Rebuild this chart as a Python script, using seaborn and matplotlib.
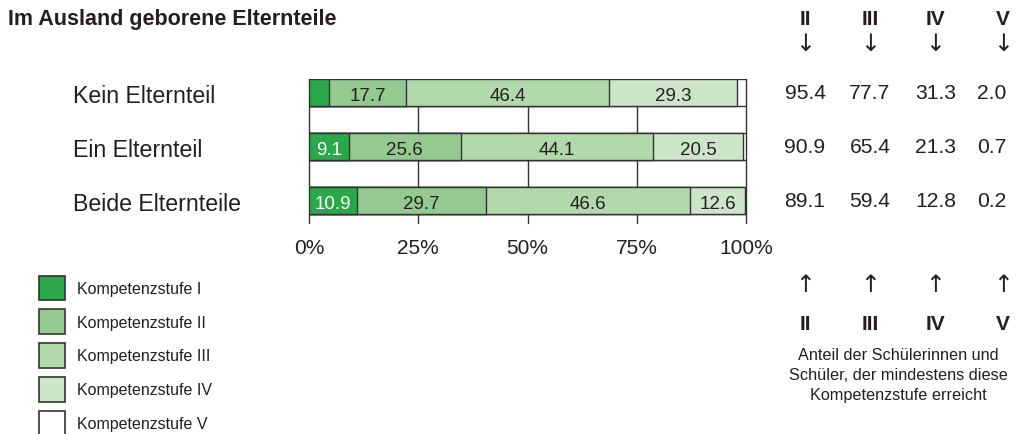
import numpy as np
import pandas as pd
import seaborn as sns
import matplotlib.pyplot as plt
from matplotlib import transforms
from matplotlib.patches import Patch

# data
categories = ["Kein Elternteil", "Ein Elternteil", "Beide Elternteile"]
levels = ["Kompetenzstufe I", "Kompetenzstufe II", "Kompetenzstufe III",
          "Kompetenzstufe IV", "Kompetenzstufe V"]
stufe_1 = [4.6, 9.1, 10.9]
stufe_2 = [17.7, 25.6, 29.7]
stufe_3 = [46.4, 44.1, 46.6]
stufe_4 = [29.3, 20.5, 12.6]
stufe_5 = [2.0, 0.7, 0.2]

# share reaching at least level II..V
min_2 = [95.4, 90.9, 89.1]
min_3 = [77.7, 65.4, 59.4]
min_4 = [31.3, 21.3, 12.8]
min_5 = [2.0, 0.7, 0.2]
roman = ["II", "III", "IV", "V"]

xticks = [0, 25, 50, 75, 100]
xticklabels = ["0%", "25%", "50%", "75%", "100%"]

colors = ["#2aa84a", "#94c98f", "#b2d9ab", "#cde6c9", "#ffffff"]
edge = "#333333"
txt = "#231f20"

sns.set_theme(style="white")
plt.rcParams['font.family'] = ['Liberation Sans', 'DejaVu Sans']

df = pd.DataFrame({"kategorie": categories})
for lvl, vals in zip(levels, [stufe_1, stufe_2, stufe_3, stufe_4, stufe_5]):
    df[lvl] = vals
cum = df[levels].cumsum(axis=1)
cum["kategorie"] = categories

fig = plt.figure(figsize=(10.18, 4.35), dpi=100)
ax = fig.add_axes([309 / 1018, 0.486, 437 / 1018, 0.329])

# stacked bars: draw cumulative totals from the largest down
for lvl, col in reversed(list(zip(levels, colors))):
    sns.barplot(data=cum, x=lvl, y="kategorie", color=col, width=0.5,
                saturation=1, edgecolor=edge, linewidth=1, ax=ax)

ax.set_xlim(0, 100)
ax.set_ylim(2.4, -0.25)
ax.set_xticks(xticks)
ax.set_xticklabels(xticklabels, fontsize=15, color=txt)
ax.tick_params(axis='x', length=0, pad=11)
ax.tick_params(axis='y', left=False, labelleft=False)
ax.set_xlabel("")
ax.set_ylabel("")
ax.grid(axis='x', color=edge, linewidth=1)
ax.set_axisbelow(True)
for gl in ax.get_xgridlines():
    gl.set_clip_on(False)
sns.despine(ax=ax, left=True, bottom=True)

# value labels inside segments
for i in range(len(categories)):
    left = 0
    for j, lvl in enumerate(levels):
        v = df[lvl][i]
        if v >= 5:
            ax.text(left + v / 2, i + 0.05, f"{v:.1f}", ha='center', va='center',
                    fontsize=13.5, color="white" if j == 0 else txt)
        left += v

# category labels and right-hand table
blend = transforms.blended_transform_factory(fig.transFigure, ax.transData)
col_x = [805, 870, 936, 992]
for i, cat in enumerate(categories):
    ax.text(73 / 1018, i + 0.04, cat, transform=blend, ha='left', va='center',
            fontsize=16.7, color=txt)
    for cx, vals in zip(col_x, [min_2, min_3, min_4, min_5]):
        ax.text(cx / 1018, i, f"{vals[i]:.1f}", transform=blend, ha='center',
                va='center', fontsize=15.2, color=txt)

fig.text(8 / 1018, 1 - 25 / 435, "Im Ausland geborene Elternteile",
         fontsize=15.5, fontweight='bold', color=txt, va='baseline')

head_x = [805, 870, 935, 1003]
for hx, r in zip(head_x, roman):
    fig.text(hx / 1018, 1 - 25 / 435, r, ha='center', va='baseline',
             fontsize=15, fontweight='bold', color=txt)
    fig.text(hx / 1018, 1 - 44 / 435, "↓", ha='center', va='center',
             fontsize=17, color=txt, family='DejaVu Sans')
    fig.text(hx / 1018, 1 - 285 / 435, "↑", ha='center', va='center',
             fontsize=17, color=txt, family='DejaVu Sans')
    fig.text(hx / 1018, 1 - 330 / 435, r, ha='center', va='baseline',
             fontsize=15, fontweight='bold', color=txt)

# multi-line note, baseline refers to the last line
fig.text(898 / 1018, 1 - 400 / 435,
         "Anteil der Schülerinnen und\nSchüler, der mindestens diese\nKompetenzstufe erreicht",
         ha='center', va='baseline', multialignment='center', fontsize=11.7,
         color=txt, linespacing=1.4)

handles = [Patch(facecolor=c, edgecolor=edge, linewidth=1.2) for c in colors]
fig.legend(handles, levels, loc='upper left', bbox_to_anchor=(39 / 1018, 1 - 276.5 / 435),
           frameon=False, fontsize=11.5, handlelength=1.63, handleheight=2.0,
           labelspacing=0.57, handletextpad=0.78, borderpad=0, borderaxespad=0,
           labelcolor=txt)

fig.savefig("out.png", dpi=100)
